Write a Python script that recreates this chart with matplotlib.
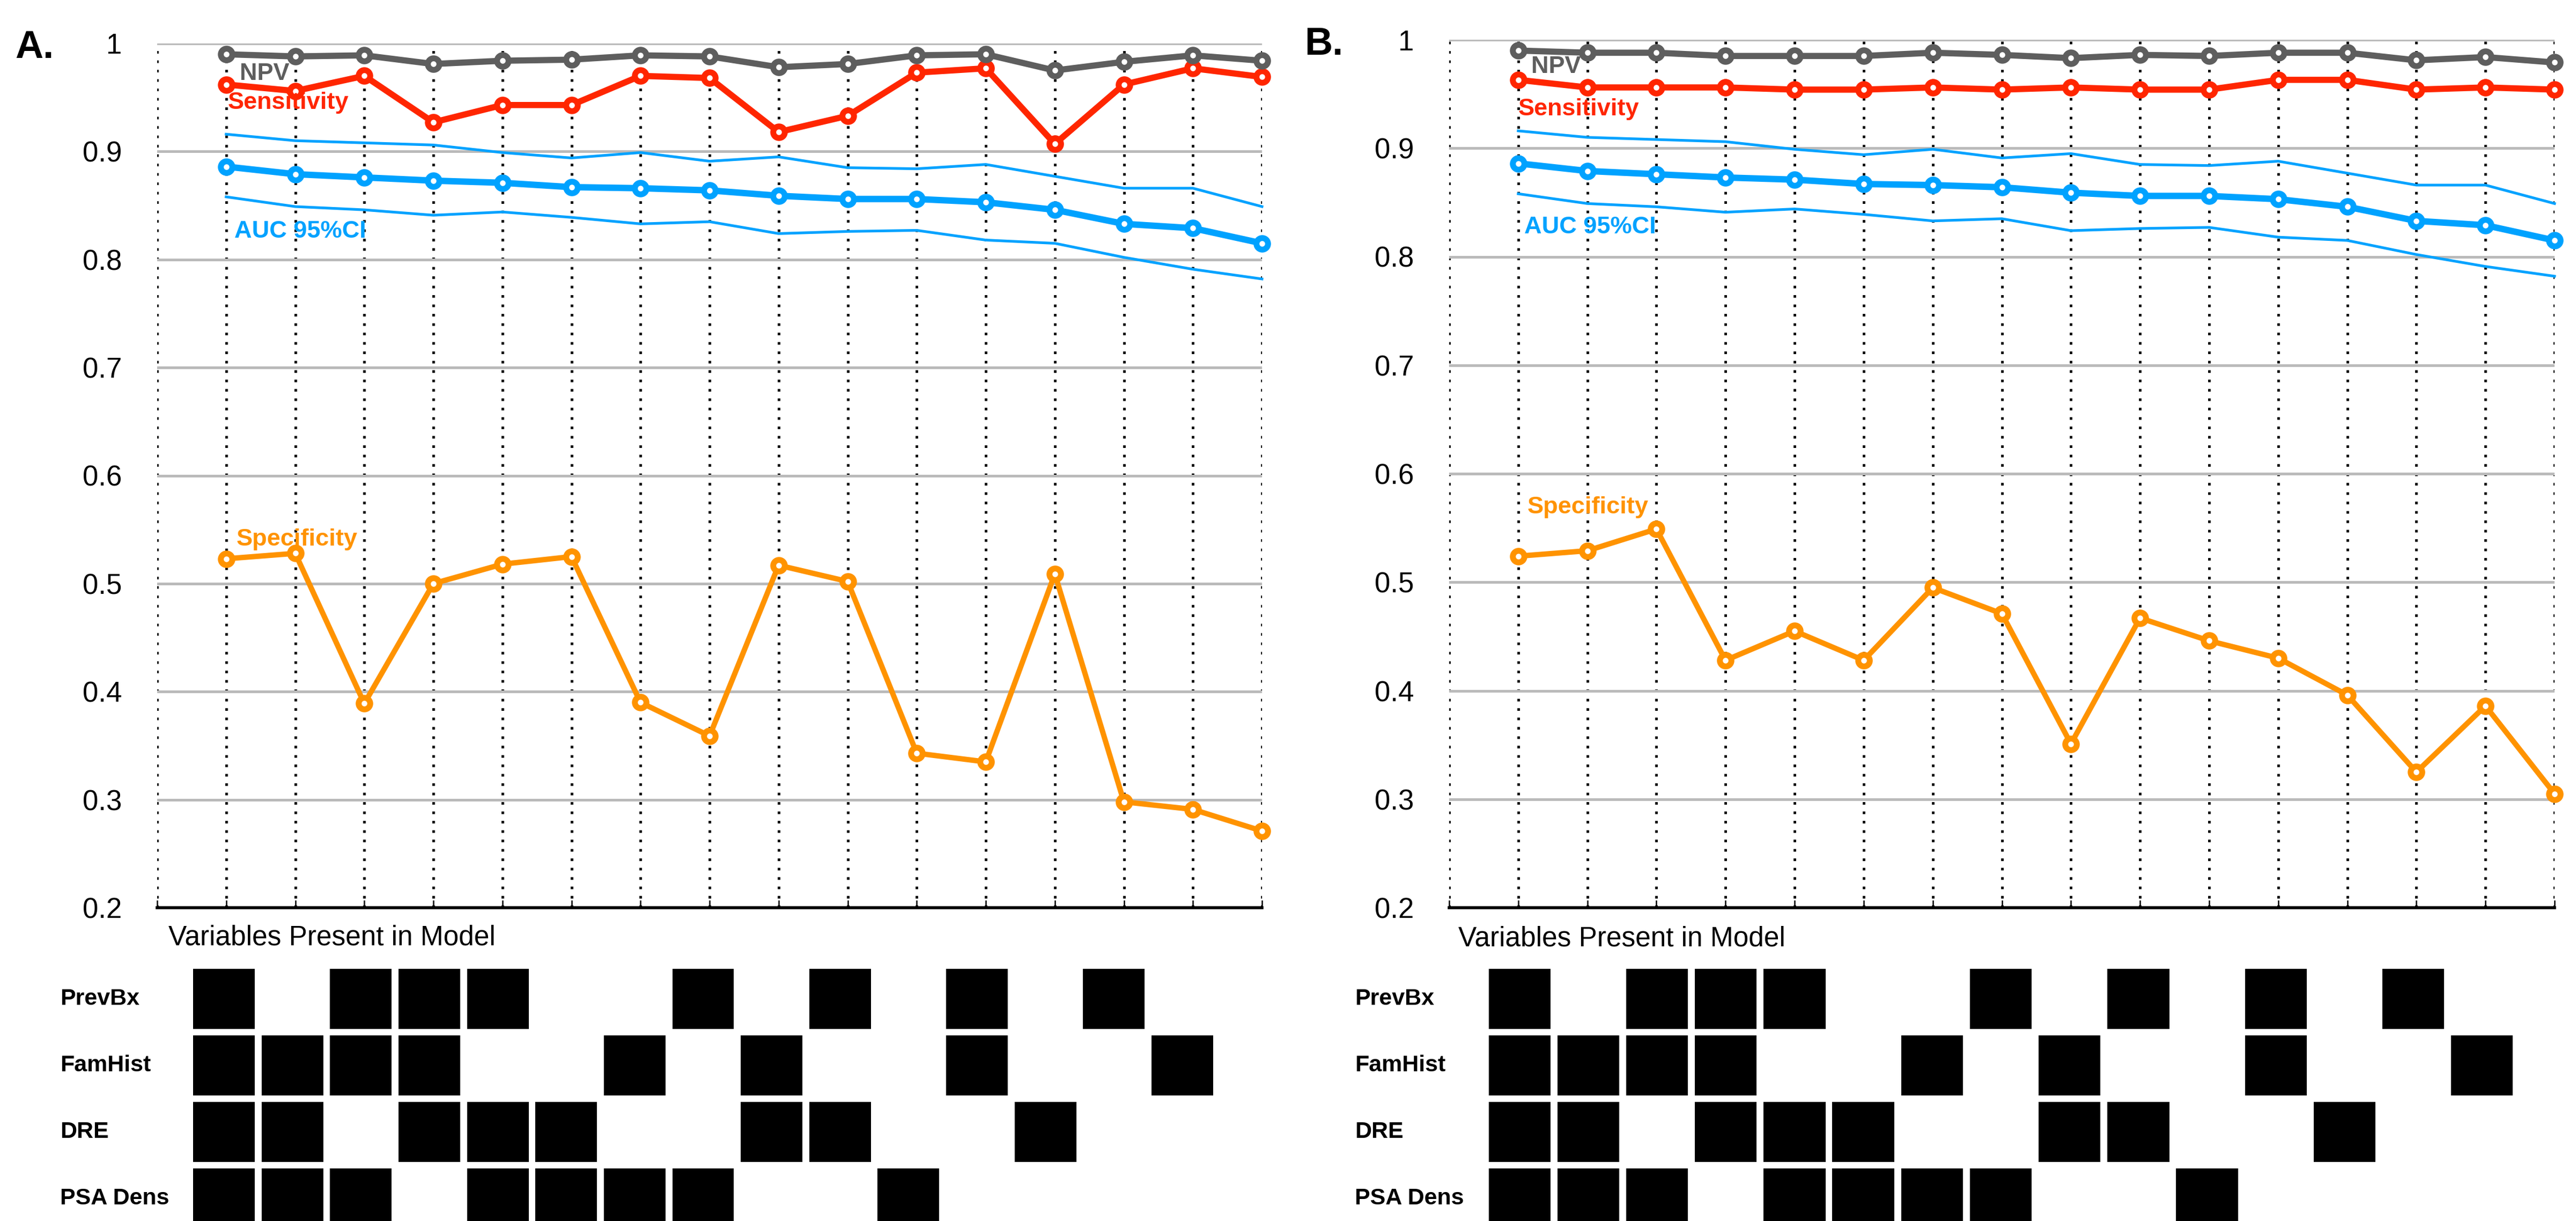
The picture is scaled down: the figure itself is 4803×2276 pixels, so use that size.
import matplotlib.pyplot as plt
from matplotlib.transforms import blended_transform_factory

plt.rcParams['font.family'] = ['Liberation Sans', 'DejaVu Sans']

# models 1..16, each a combination of the four variables
models = list(range(1, 17))
variables = ['PrevBx', 'FamHist', 'DRE', 'PSA Dens']
prevbx = [1, 0, 1, 1, 1, 0, 0, 1, 0, 1, 0, 1, 0, 1, 0, 0]
famhist = [1, 1, 1, 1, 0, 0, 1, 0, 1, 0, 0, 1, 0, 0, 1, 0]
dre = [1, 1, 0, 1, 1, 1, 0, 0, 1, 1, 0, 0, 1, 0, 0, 0]
psa_dens = [1, 1, 1, 0, 1, 1, 1, 1, 0, 0, 1, 0, 0, 0, 0, 0]

# AUC with 95% CI (same in both panels)
auc = [0.886, 0.879, 0.876, 0.873, 0.871, 0.867, 0.866, 0.864,
       0.859, 0.856, 0.856, 0.853, 0.846, 0.833, 0.829, 0.815]
auc_hi = [0.916, 0.910, 0.908, 0.906, 0.899, 0.894, 0.899, 0.891,
          0.895, 0.885, 0.884, 0.888, 0.877, 0.866, 0.866, 0.849]
auc_lo = [0.858, 0.849, 0.846, 0.841, 0.844, 0.839, 0.833, 0.835,
          0.824, 0.826, 0.827, 0.818, 0.815, 0.802, 0.791, 0.782]

# panel A
npv_a = [0.990, 0.988, 0.989, 0.981, 0.984, 0.985, 0.989, 0.988,
         0.978, 0.981, 0.989, 0.990, 0.975, 0.983, 0.989, 0.984]
sens_a = [0.962, 0.956, 0.970, 0.927, 0.943, 0.943, 0.970, 0.968,
          0.918, 0.933, 0.973, 0.977, 0.907, 0.962, 0.977, 0.969]
spec_a = [0.523, 0.528, 0.389, 0.500, 0.518, 0.525, 0.390, 0.359,
          0.517, 0.502, 0.343, 0.335, 0.509, 0.298, 0.291, 0.271]

# panel B
npv_b = [0.990, 0.988, 0.988, 0.985, 0.985, 0.985, 0.988, 0.986,
         0.983, 0.986, 0.985, 0.988, 0.988, 0.981, 0.984, 0.979]
sens_b = [0.963, 0.956, 0.956, 0.956, 0.954, 0.954, 0.956, 0.954,
          0.956, 0.954, 0.954, 0.963, 0.963, 0.954, 0.956, 0.954]
spec_b = [0.524, 0.529, 0.549, 0.428, 0.455, 0.428, 0.495, 0.471,
          0.351, 0.467, 0.446, 0.430, 0.396, 0.325, 0.386, 0.305]

yticks = [0.2, 0.3, 0.4, 0.5, 0.6, 0.7, 0.8, 0.9, 1.0]
ytick_labels = ['0.2', '0.3', '0.4', '0.5', '0.6', '0.7', '0.8', '0.9', '1']

GRAY = '#5e5e5e'
RED = '#ff2600'
BLUE = '#00a2ff'
ORANGE = '#ff9300'

W, H = 4803, 2276
fig = plt.figure(figsize=(W / 100, H / 100), dpi=100)


def box(left, top, right, bottom):
    # pixel box -> figure fraction rect
    return [left / W, 1 - bottom / H, (right - left) / W, (bottom - top) / H]


def series(ax, y, color, lw, z):
    ax.plot(models, y, color=color, lw=lw, marker='o', ms=15.5, mew=7.9,
            mfc='white', mec=color, zorder=z, clip_on=False)


def draw_panel(ax, gax, npv, sens, spec, letter, lab):
    ax.set_xlim(0, 16)
    ax.set_ylim(0.2, 1.0)
    ax.set_yticks(yticks)
    ax.set_yticklabels(ytick_labels)
    ax.set_xticks(range(0, 17))
    ax.set_xticklabels([])
    ax.tick_params(axis='y', length=0, pad=47, labelsize=38)
    ax.tick_params(axis='x', direction='in', length=10, width=1.8, color='black')
    for s in ['left', 'right', 'top']:
        ax.spines[s].set_visible(False)
    ax.spines['bottom'].set_linewidth(4)
    ax.grid(axis='y', color='#bababa', lw=3.6, zorder=0)
    ax.grid(axis='x', color='black', ls=(0, (1, 2.6)), lw=3.5, zorder=0)
    ax.set_axisbelow(True)

    ax.plot(models, auc_hi, color=BLUE, lw=3.6, zorder=3, clip_on=False)
    ax.plot(models, auc_lo, color=BLUE, lw=3.6, zorder=3, clip_on=False)
    series(ax, auc, BLUE, 8.6, 4)
    series(ax, spec, ORANGE, 7.2, 4)
    series(ax, sens, RED, 8.3, 5)
    series(ax, npv, GRAY, 8.3, 6)

    kw = dict(fontsize=32.5, fontweight='bold', va='center', ha='left', zorder=8)
    ax.text(lab['npv'][0], lab['npv'][1], 'NPV', color=GRAY, **kw)
    ax.text(lab['sens'][0], lab['sens'][1], 'Sensitivity', color=RED, **kw)
    ax.text(lab['auc'][0], lab['auc'][1], 'AUC 95%CI', color=BLUE, **kw)
    ax.text(lab['spec'][0], lab['spec'][1], 'Specificity', color=ORANGE, **kw)

    # variable presence grid
    rows = [prevbx, famhist, dre, psa_dens]
    gax.set_xlim(0, 16)
    gax.set_ylim(3.903, 0)
    gax.axis('off')
    for r, flags in enumerate(rows):
        xs = [m for m, f in zip(models, flags) if f]
        gax.bar(xs, 0.903, bottom=r, width=0.9, color='black', align='center')

    tr = blended_transform_factory(fig.transFigure, gax.transData)
    for r, name in enumerate(variables):
        gax.text(letter['rowx'] / W, r + 0.45, name, transform=tr,
                 fontsize=31, fontweight='bold', ha='left', va='center')

    fig.text(letter['x'] / W, 1 - letter['y'] / H, letter['text'],
             fontsize=52, fontweight='bold', ha='left', va='center')
    fig.text(letter['varx'] / W, 1 - letter['vary'] / H,
             'Variables Present in Model', fontsize=37, ha='left', va='center')


ax_a = fig.add_axes(box(293, 81, 2353, 1692))
gax_a = fig.add_axes(box(290, 1806, 2332, 2290))
draw_panel(ax_a, gax_a, npv_a, sens_a, spec_a,
           dict(text='A.', x=28, y=89, rowx=112, varx=314, vary=1748),
           dict(npv=(1.2, 0.972), sens=(1.02, 0.945), auc=(1.12, 0.826),
                spec=(1.15, 0.541)))

ax_b = fig.add_axes(box(2702, 74, 4763, 1692))
gax_b = fig.add_axes(box(2705, 1806, 4756, 2290))
draw_panel(ax_b, gax_b, npv_b, sens_b, spec_b,
           dict(text='B.', x=2432, y=83, rowx=2526, varx=2719, vary=1750),
           dict(npv=(1.19, 0.975), sens=(1.0, 0.936), auc=(1.09, 0.827),
                spec=(1.13, 0.569)))

fig.savefig('out.png', dpi=100)
